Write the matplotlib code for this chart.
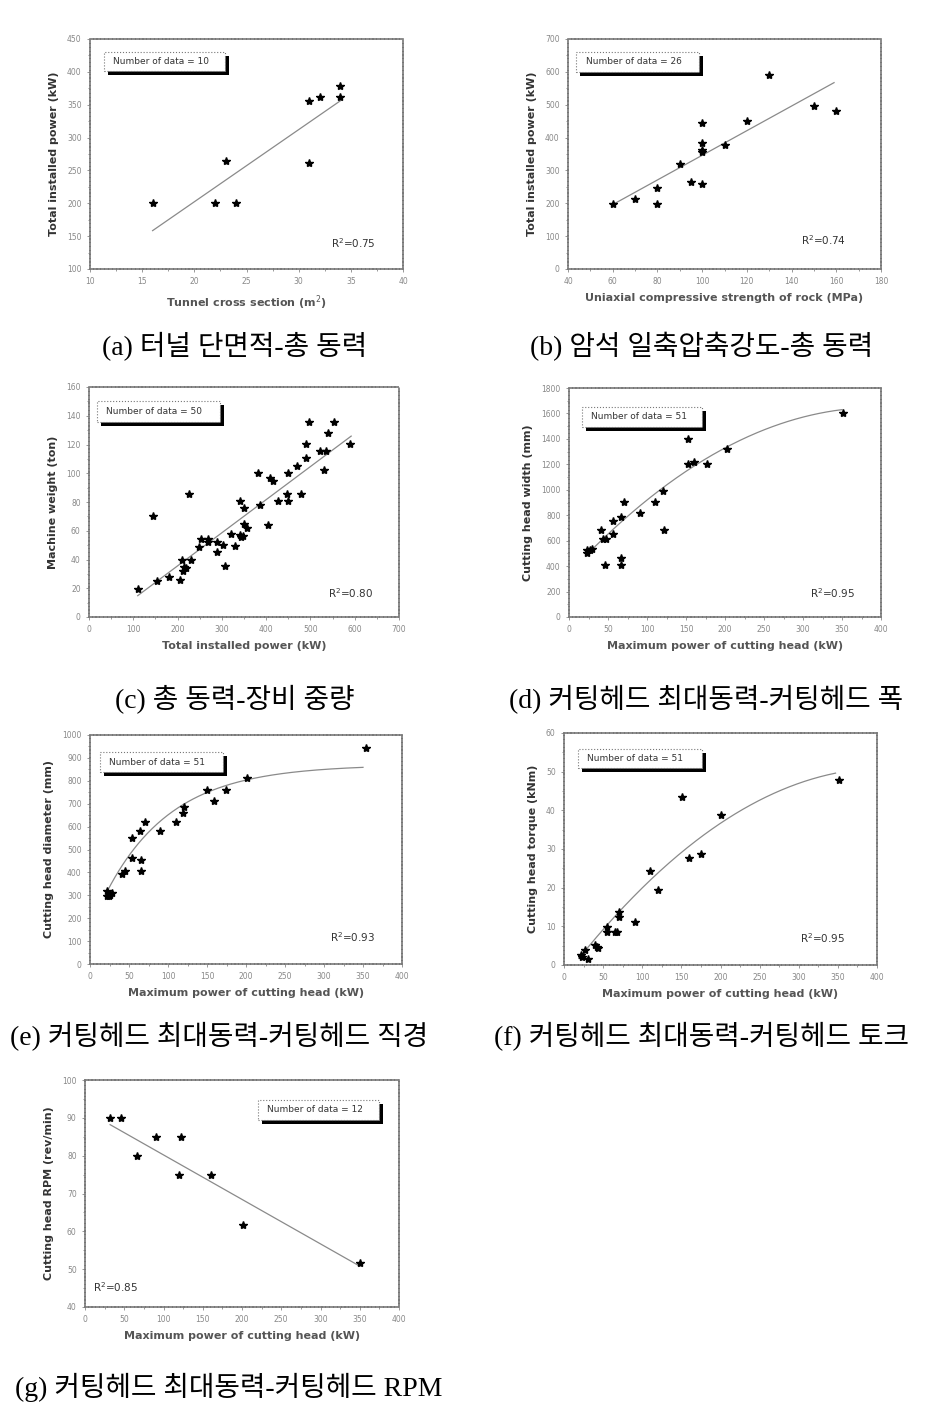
"""Seven scatter panels (TBM/roadheader regressions) with Korean captions."""

import matplotlib

matplotlib.use("Agg")

import matplotlib.pyplot as plt
import numpy as np
from matplotlib.patches import Rectangle
from matplotlib.ticker import MultipleLocator

W, H = 951, 1415

# (a) tunnel cross section vs total installed power
a_x = [16, 22, 24, 23, 31, 31, 32, 34, 34]
a_y = [200, 200, 200, 265, 261, 355, 361, 361, 379]
a_fit = [10.98, -17.3]          # slope, intercept
a_span = [16, 34]

# (b) UCS vs total installed power
b_x = [60, 70, 80, 80, 90, 95, 100, 100, 100, 100, 100, 110, 120, 130, 150, 160]
b_y = [198, 214, 248, 198, 320, 265, 259, 355, 363, 385, 444, 378, 449, 589, 497, 480]
b_fit = [3.749, -28.9]
b_span = [60, 159]

# (c) total installed power vs machine weight
c_x = [110, 144, 153, 181, 205, 209, 215, 213, 219, 230, 226, 249, 253, 269, 269,
       288, 288, 302, 306, 321, 330, 340, 343, 348, 341, 349, 351, 356, 381, 386,
       405, 409, 416, 426, 450, 450, 446, 469, 479, 489, 489, 497, 522, 531, 535,
       540, 554, 589]
c_y = [19.5, 70, 25, 28, 26, 40, 34.6, 32, 34, 40, 85.6, 48.5, 54.3, 54.3, 52.2,
       52.2, 45, 50.3, 35.7, 57.7, 49.6, 80.9, 55.4, 56.6, 57.3, 64.9, 75.8, 61.9,
       100.2, 78.1, 64.2, 96.7, 94.8, 80.5, 80.5, 100.2, 85.6, 105.3, 85.6, 110.6,
       120.6, 135.7, 115.7, 102.5, 115.7, 128, 135.7, 120.3]
c_fit = [0.2303, -10.5]
c_span = [110, 592]

# (d) cutting head power vs cutting head width
d_x = [23, 26.5, 23, 30, 41.5, 43.6, 47, 45.8, 56.5, 56.5, 66.3, 67.2, 67.2, 70.6,
       90.7, 110.8, 120.6, 122, 152, 152, 160.4, 176.3, 202, 351.7]
d_y = [503, 529, 529, 534, 681, 616, 616, 406, 752, 655, 786, 464, 406, 901,
       817, 901, 993, 686, 1399, 1203, 1218, 1203, 1323, 1603]
d_fit = [342.6, 6.602, -0.008355]   # a + b x + c x^2
d_span = [23, 350]

# (e) cutting head power vs cutting head diameter
e_x = [22.2, 25.7, 21.4, 27.8, 24.8, 40.6, 44.9, 54.3, 54.3, 64.2, 65.5, 65.5,
       70.6, 89.8, 109.9, 118.9, 120.6, 149.7, 159.6, 174.5, 201.1, 353.8]
e_y = [320, 302, 295, 310, 295, 392, 404, 465, 552, 581, 455, 404,
       618, 581, 618, 661, 687, 760, 712, 760, 811, 942]
e_fit = [870, 718, 84.2]            # A - B exp(-x / t)
e_span = [22, 350]

# (f) cutting head power vs cutting head torque
f_x = [21.7, 22.6, 26.9, 31.1, 39.7, 41.8, 43.9, 54.6, 54.6, 65.2, 67.4, 70.8,
       70.8, 90.8, 110, 120.7, 150.5, 159.9, 175.3, 200.4, 351]
f_y = [2.6, 2.0, 3.9, 1.5, 5.2, 4.7, 4.5, 9.8, 8.6, 8.6, 8.6, 12.5,
       13.8, 11.1, 24.2, 19.4, 43.4, 27.6, 28.8, 38.9, 47.9]
f_fit = [-3.19, 0.2633, -0.0003202]
f_span = [19, 347]

# (g) cutting head power vs cutting head RPM
g_x = [31.8, 45.8, 65.8, 90.4, 121.8, 119.6, 160, 201.5, 350]
g_y = [90, 90, 79.9, 85, 85, 74.8, 74.8, 61.8, 51.6]
g_fit = [-0.1176, 91.96]
g_span = [32, 350]

captions = [
    "(a) 터널 단면적-총 동력",
    "(b) 암석 일축압축강도-총 동력",
    "(c) 총 동력-장비 중량",
    "(d) 커팅헤드 최대동력-커팅헤드 폭",
    "(e) 커팅헤드 최대동력-커팅헤드 직경",
    "(f) 커팅헤드 최대동력-커팅헤드 토크",
    "(g) 커팅헤드 최대동력-커팅헤드 RPM",
]

POWER = "Maximum power of cutting head (kW)"


def rect(l, t, r, b):
    return [l / W, 1 - b / H, (r - l) / W, (b - t) / H]


def line_fit(p, x):
    return p[0] * x + p[1]


def quad_fit(p, x):
    return p[0] + p[1] * x + p[2] * x ** 2


def exp_fit(p, x):
    return p[0] - p[1] * np.exp(-x / p[2])


panels = [
    dict(pos=(90, 39, 403, 269), x=a_x, y=a_y, fit=a_fit, span=a_span, f=line_fit,
         xlim=(10, 40), xstep=5, ylim=(100, 450), ystep=50,
         xlabel="Tunnel cross section (m$^2$)", ylabel="Total installed power (kW)",
         n=10, box=(0.045, 0.861, 0.386, 0.082), r2="0.75", r2pos=(0.84, 0.113)),
    dict(pos=(568, 39, 881, 269), x=b_x, y=b_y, fit=b_fit, span=b_span, f=line_fit,
         xlim=(40, 180), xstep=20, ylim=(0, 700), ystep=100,
         xlabel="Uniaxial compressive strength of rock (MPa)",
         ylabel="Total installed power (kW)",
         n=26, box=(0.026, 0.857, 0.393, 0.086), r2="0.74", r2pos=(0.815, 0.126)),
    dict(pos=(89, 387, 399, 617), x=c_x, y=c_y, fit=c_fit, span=c_span, f=line_fit,
         xlim=(0, 700), xstep=100, ylim=(0, 160), ystep=20,
         xlabel="Total installed power (kW)", ylabel="Machine weight (ton)",
         n=50, box=(0.026, 0.848, 0.397, 0.091), r2="0.80", r2pos=(0.842, 0.104)),
    dict(pos=(569, 388, 881, 617), x=d_x, y=d_y, fit=d_fit, span=d_span, f=quad_fit,
         xlim=(0, 400), xstep=50, ylim=(0, 1800), ystep=200,
         xlabel=POWER, ylabel="Cutting head width (mm)",
         n=51, box=(0.042, 0.830, 0.384, 0.087), r2="0.95", r2pos=(0.846, 0.105)),
    dict(pos=(90, 735, 402, 964), x=e_x, y=e_y, fit=e_fit, span=e_span, f=exp_fit,
         xlim=(0, 400), xstep=50, ylim=(0, 1000), ystep=100,
         xlabel=POWER, ylabel="Cutting head diameter (mm)",
         n=51, box=(0.032, 0.838, 0.394, 0.088), r2="0.93", r2pos=(0.843, 0.118)),
    dict(pos=(564, 733, 877, 965), x=f_x, y=f_y, fit=f_fit, span=f_span, f=quad_fit,
         xlim=(0, 400), xstep=50, ylim=(0, 60), ystep=10,
         xlabel=POWER, ylabel="Cutting head torque (kNm)",
         n=51, box=(0.045, 0.849, 0.396, 0.082), r2="0.95", r2pos=(0.827, 0.116)),
    dict(pos=(85, 1080, 399, 1307), x=g_x, y=g_y, fit=g_fit, span=g_span, f=line_fit,
         xlim=(0, 400), xstep=50, ylim=(40, 100), ystep=10,
         xlabel=POWER, ylabel="Cutting head RPM (rev/min)",
         n=12, box=(0.551, 0.824, 0.385, 0.088), r2="0.85", r2pos=(0.096, 0.088)),
]

# caption centre (px) for each panel
cap_pos = [(235, 347), (702, 347), (235, 700), (706, 700),
           (219, 1037), (702, 1037), (229, 1387)]

fig = plt.figure(figsize=(W / 100, H / 100), dpi=100)

for p in panels:
    ax = fig.add_axes(rect(*p["pos"]))
    xs = np.linspace(p["span"][0], p["span"][1], 200)
    ax.plot(xs, p["f"](p["fit"], xs), color="#8a8a8a", lw=0.9, zorder=2)
    ax.plot(p["x"], p["y"], ls="none", marker="*", ms=6, color="black", zorder=3)

    ax.set_xlim(*p["xlim"])
    ax.set_ylim(*p["ylim"])
    ax.xaxis.set_major_locator(MultipleLocator(p["xstep"]))
    ax.yaxis.set_major_locator(MultipleLocator(p["ystep"]))
    ax.xaxis.set_minor_locator(MultipleLocator(p["xstep"] / 2))
    ax.yaxis.set_minor_locator(MultipleLocator(p["ystep"] / 2))
    ax.tick_params(which="both", labelsize=5.5, colors="#888888", length=2.5,
                   width=0.6, direction="out")
    ax.tick_params(which="minor", length=1.5)
    for s in ax.spines.values():
        s.set_color("#777777")
        s.set_linewidth(1.2)
        s.set_linestyle((0, (1.5, 0.8)))

    ax.set_xlabel(p["xlabel"], fontsize=8, fontweight="bold", color="#555555",
                  labelpad=5)
    ax.set_ylabel(p["ylabel"], fontsize=8, fontweight="bold", color="#333333",
                  labelpad=6)

    # "Number of data" box with a black drop shadow
    bx, by, bw, bh = p["box"]
    ax.add_patch(Rectangle((bx + 0.012, by - 0.016), bw, bh, transform=ax.transAxes,
                           fc="black", ec="none", zorder=4))
    ax.add_patch(Rectangle((bx, by), bw, bh, transform=ax.transAxes, fc="white",
                           ec="#777777", lw=0.8, ls=":", zorder=5))
    ax.text(bx + 0.03, by + bh / 2, f"Number of data = {p['n']}", transform=ax.transAxes,
            fontsize=6.5, va="center", ha="left", color="#333333", zorder=6)

    ax.text(p["r2pos"][0], p["r2pos"][1], f"R$^2$={p['r2']}", transform=ax.transAxes,
            fontsize=7.5, ha="center", va="center", color="#333333")

for cap, (cx, cy) in zip(captions, cap_pos):
    fig.text(cx / W, 1 - cy / H, cap, fontsize=20, ha="center", va="center",
             family=["Liberation Serif", "Noto Sans CJK KR", "DejaVu Sans"])

fig.savefig("out.png", dpi=100)
plt.close(fig)
